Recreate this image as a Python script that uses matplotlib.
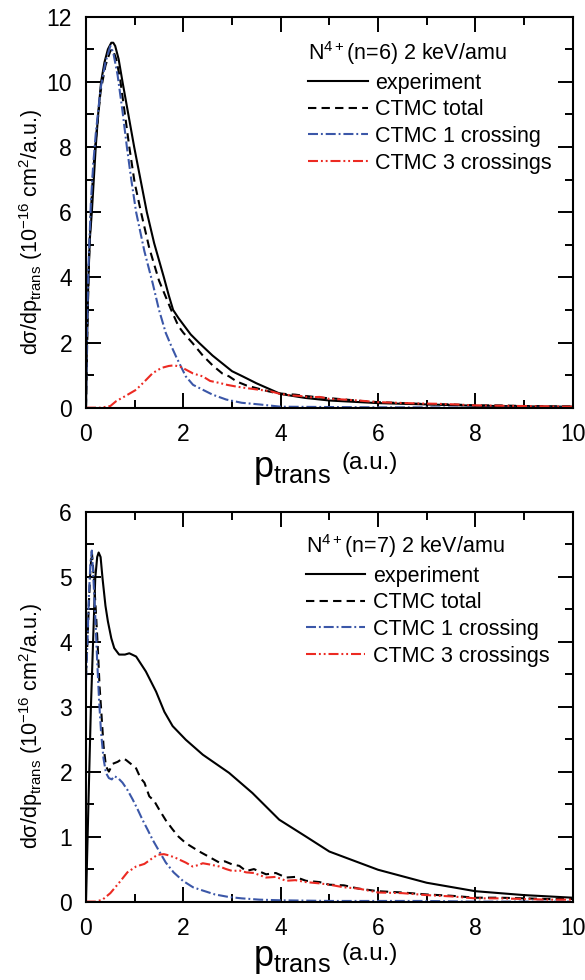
import numpy as np
import matplotlib
matplotlib.use("Agg")
import matplotlib.pyplot as plt
from matplotlib.ticker import MultipleLocator

plt.rcParams['font.family'] = ['Liberation Sans', 'DejaVu Sans']
plt.rcParams['mathtext.fontset'] = 'custom'
plt.rcParams['mathtext.rm'] = 'Liberation Sans'
plt.rcParams['mathtext.it'] = 'Liberation Sans:italic'
plt.rcParams['mathtext.bf'] = 'Liberation Sans:bold'

# ---- panel 1: N4+(n=6) ----
exp6_x = [0, 0.02, 0.05, 0.08, 0.12, 0.16, 0.2, 0.25, 0.31, 0.38, 0.45, 0.52, 0.56, 0.6, 0.67, 0.75,
          0.87, 0.99, 1.12, 1.25, 1.40, 1.6, 1.7, 1.79, 1.9, 2.0, 2.15, 2.33, 2.6, 3.0, 3.22, 3.5, 4.0,
          4.5, 5.0, 5.5, 6.0, 7.0, 8.0, 9.0, 10.0]
exp6_y = [0, 2.0, 4.0, 5.2, 6.0, 7.0, 8.0, 9.0, 10.0, 10.6, 11.0, 11.2, 11.2, 11.1, 10.7, 10.0,
          9.0, 8.0, 7.0, 6.0, 5.05, 4.0, 3.45, 3.0, 2.75, 2.55, 2.25, 1.98, 1.6, 1.12, 0.96, 0.75, 0.42,
          0.3, 0.22, 0.18, 0.14, 0.1, 0.06, 0.04, 0.03]

tot6_x = [0, 0.03, 0.06, 0.1, 0.15, 0.2, 0.3, 0.4, 0.5, 0.55, 0.62, 0.7, 0.8, 0.89, 1.0, 1.13, 1.3,
          1.5, 1.75, 1.9, 2.0, 2.19, 2.4, 2.6, 2.8, 2.94, 3.1, 3.3, 3.5, 3.7, 3.9, 4.1, 4.3, 4.5, 4.7,
          4.9, 5.1, 5.4, 5.7, 6.0, 6.5, 7.0, 7.5, 8.0, 8.5, 9.0, 9.5, 10.0]
tot6_y = [0, 2.5, 4.5, 6.0, 7.3, 8.2, 9.7, 10.5, 10.95, 11.0, 10.7, 10.1, 9.0, 8.0, 6.9, 6.0, 4.9,
          3.9, 3.0, 2.5, 2.3, 1.98, 1.6, 1.3, 1.05, 0.96, 0.8, 0.68, 0.6, 0.52, 0.45, 0.42, 0.4, 0.36,
          0.33, 0.3, 0.28, 0.24, 0.2, 0.17, 0.14, 0.11, 0.1, 0.07, 0.07, 0.05, 0.04, 0.04]

one6_x = [0, 0.02, 0.05, 0.1, 0.15, 0.2, 0.3, 0.4, 0.5, 0.56, 0.65, 0.75, 0.84, 0.93, 1.03, 1.2,
          1.37, 1.5, 1.64, 1.75, 1.85, 2.05, 2.2, 2.4, 2.6, 2.88, 3.2, 3.56, 4.0, 5.0, 6.0, 7.0, 8.0,
          9.0, 10.0]
one6_y = [0, 2.3, 4.3, 6.3, 7.5, 8.4, 9.8, 10.6, 11.1, 10.9, 10.2, 9.1, 8.0, 7.0, 6.0, 4.8,
          3.82, 3.0, 2.29, 1.9, 1.57, 0.96, 0.7, 0.55, 0.4, 0.25, 0.15, 0.1, 0.03, 0.02, 0.01, 0.01, 0.0,
          0.0, 0.0]

three6_x = [0, 0.3, 0.5, 0.62, 0.8, 1.03, 1.2, 1.37, 1.55, 1.7, 1.81, 1.95, 2.05, 2.2, 2.4, 2.55,
            2.74, 2.9, 3.08, 3.3, 3.56, 3.8, 3.97, 4.2, 4.4, 4.6, 4.8, 5.0, 5.3, 5.6, 6.0, 6.4, 6.8,
            7.2, 7.6, 8.0, 8.5, 9.0, 9.5, 10.0]
three6_y = [0, 0.0, 0.05, 0.2, 0.35, 0.55, 0.8, 1.06, 1.22, 1.28, 1.30, 1.25, 1.17, 1.05, 0.96, 0.82,
            0.76, 0.7, 0.65, 0.6, 0.55, 0.5, 0.43, 0.38, 0.36, 0.32, 0.33, 0.27, 0.25, 0.22, 0.17, 0.15, 0.13,
            0.12, 0.1, 0.07, 0.06, 0.05, 0.04, 0.03]

# ---- panel 2: N4+(n=7) ----
exp7_x = [0, 0.05, 0.1, 0.15, 0.19, 0.23, 0.26, 0.3, 0.34, 0.4, 0.45, 0.52, 0.58, 0.68, 0.8, 0.89,
          1.03, 1.23, 1.44, 1.61, 1.78, 2.05, 2.4, 2.94, 3.42, 3.97, 4.52, 5.0, 6.0, 7.0, 8.0, 9.0, 10.0]
exp7_y = [0, 1.5, 2.97, 4.1, 4.97, 5.3, 5.37, 5.3, 4.97, 4.55, 4.31, 4.05, 3.90, 3.80, 3.80, 3.82,
          3.77, 3.54, 3.23, 2.92, 2.70, 2.49, 2.26, 1.98, 1.67, 1.26, 1.0, 0.77, 0.49, 0.29, 0.16, 0.10, 0.06]

tot7_x = [0, 0.03, 0.06, 0.09, 0.12, 0.16, 0.2, 0.24, 0.28, 0.31, 0.36, 0.41, 0.47, 0.55, 0.65, 0.75,
          0.82, 0.92, 1.03, 1.12, 1.2, 1.3, 1.4, 1.5, 1.64, 1.78, 1.9, 2.05, 2.2, 2.33, 2.5, 2.74, 2.85,
          3.01, 3.15, 3.29, 3.45, 3.7, 3.9, 4.11, 4.3, 4.52, 4.8, 5.0, 5.3, 5.6, 6.0, 6.5, 7.0, 7.5, 8.0,
          8.5, 9.0, 9.5, 10.0]
tot7_y = [3.5, 4.0, 4.6, 5.1, 5.38, 5.0, 4.5, 3.95, 3.3, 2.97, 2.4, 2.08, 2.0, 2.12, 2.15, 2.2,
          2.18, 2.12, 2.05, 1.9, 1.83, 1.62, 1.55, 1.42, 1.25, 1.11, 1.0, 0.9, 0.83, 0.77, 0.7, 0.6, 0.62,
          0.57, 0.55, 0.47, 0.5, 0.42, 0.44, 0.37, 0.38, 0.32, 0.3, 0.26, 0.25, 0.2, 0.16, 0.14, 0.11, 0.09, 0.06,
          0.06, 0.05, 0.04, 0.04]

one7_x = [0, 0.03, 0.06, 0.09, 0.12, 0.15, 0.19, 0.23, 0.27, 0.31, 0.36, 0.41, 0.47, 0.53, 0.58, 0.66,
          0.75, 0.85, 0.96, 1.06, 1.16, 1.27, 1.37, 1.5, 1.64, 1.8, 1.99, 2.2, 2.4, 2.65, 2.94, 3.2, 3.56,
          4.0, 5.0, 6.0, 7.0, 8.0, 9.0, 10.0]
one7_y = [3.4, 4.0, 4.7, 5.2, 5.4, 5.0, 4.4, 3.7, 3.08, 2.6, 2.2, 1.98, 1.9, 1.88, 1.93, 1.9,
          1.83, 1.72, 1.57, 1.42, 1.26, 1.1, 0.95, 0.78, 0.6, 0.45, 0.32, 0.22, 0.17, 0.11, 0.07, 0.05, 0.03,
          0.02, 0.01, 0.01, 0.01, 0.0, 0.0, 0.0]

three7_x = [0, 0.2, 0.34, 0.5, 0.68, 0.85, 1.03, 1.2, 1.35, 1.47, 1.6, 1.71, 1.85, 2.05, 2.19, 2.3,
            2.4, 2.55, 2.74, 2.88, 3.01, 3.15, 3.29, 3.45, 3.7, 3.9, 4.11, 4.3, 4.52, 4.8, 5.0, 5.3, 5.6,
            6.0, 6.5, 7.0, 7.5, 8.0, 8.5, 9.0, 9.5, 10.0]
three7_y = [0, 0.0, 0.03, 0.13, 0.29, 0.45, 0.54, 0.58, 0.66, 0.72, 0.73, 0.71, 0.67, 0.60, 0.54, 0.56,
            0.59, 0.57, 0.54, 0.5, 0.47, 0.48, 0.45, 0.44, 0.37, 0.38, 0.32, 0.33, 0.3, 0.28, 0.26, 0.22, 0.2,
            0.14, 0.13, 0.1, 0.08, 0.05, 0.05, 0.04, 0.03, 0.03]

titles = [r'N$^{\mathregular{4+}}$(n=6) 2 keV/amu', r'N$^{\mathregular{4+}}$(n=7) 2 keV/amu']
labels = ['experiment', 'CTMC total', 'CTMC 1 crossing', 'CTMC 3 crossings']

BLUE = '#3b57a8'
RED = '#ec2a22'
LW = 1.5

fig = plt.figure(figsize=(5.85, 9.8), dpi=100)
ax1 = fig.add_axes([0.147, 0.584, 0.832, 0.399])
ax2 = fig.add_axes([0.147, 0.080, 0.832, 0.398])

# (axes, data..., ymax, major, minor, legend anchor, xlabel baselines)
panels = [
    (ax1, exp6_x, exp6_y, tot6_x, tot6_y, one6_x, one6_y, three6_x, three6_y, 12, 2, 1,
     (0.457, 0.942), (-0.177, -0.158)),
    (ax2, exp7_x, exp7_y, tot7_x, tot7_y, one7_x, one7_y, three7_x, three7_y, 6, 1, 0.5,
     (0.452, 0.947), (-0.166, -0.151)),
]

for i, (ax, ex, ey, tx, ty, ox, oy, rx, ry, ymax, ymaj, ymin, anchor, xl) in enumerate(panels):
    ax.plot(ex, ey, color='black', lw=LW, ls='-', label=labels[0])
    ax.plot(tx, ty, color='black', lw=LW, ls=(0, (4, 2.5)), label=labels[1])
    ax.plot(ox, oy, color=BLUE, lw=LW, ls=(0, (4.8, 1.4, 0.9, 1.4)), label=labels[2])
    ax.plot(rx, ry, color=RED, lw=LW, ls=(0, (4.8, 1.4, 0.9, 1.4, 0.9, 1.4)), label=labels[3])

    ax.set_xlim(0, 10)
    ax.set_ylim(0, ymax)
    ax.xaxis.set_major_locator(MultipleLocator(2))
    ax.xaxis.set_minor_locator(MultipleLocator(1))
    ax.yaxis.set_major_locator(MultipleLocator(ymaj))
    ax.yaxis.set_minor_locator(MultipleLocator(ymin))
    ax.tick_params(which='both', direction='in', top=True, right=True, width=1.4, labelsize=16.5)
    ax.tick_params(which='major', length=10.5)
    ax.tick_params(which='minor', length=5.5)
    ax.tick_params(axis='x', pad=11)
    ax.tick_params(axis='y', pad=10)
    for sp in ax.spines.values():
        sp.set_linewidth(1.5)

    # x label: big p_trans with a raised "(a.u.)"
    ax.text(0.343, xl[0], r'$\mathregular{p_{trans}}$', transform=ax.transAxes,
            fontsize=26, ha='left', va='baseline')
    ax.text(0.524, xl[1], '(a.u.)', transform=ax.transAxes,
            fontsize=17.5, ha='left', va='baseline')

    ax.set_ylabel(r'd$\mathregular{\sigma}$/dp$_{\mathregular{trans}}$ (10$^{\mathregular{-16}}$ cm$^{\mathregular{2}}$/a.u.)',
                  fontsize=15.5)
    ax.yaxis.set_label_coords(-0.085, 0.45)

    leg = ax.legend(loc='upper left', bbox_to_anchor=anchor, frameon=False, fontsize=15.5,
                    title=titles[i], title_fontsize=15.5, alignment='left',
                    handlelength=2.75, handletextpad=0.35, labelspacing=0.26,
                    borderpad=0, borderaxespad=0)

fig.savefig('out.png', dpi=100)
